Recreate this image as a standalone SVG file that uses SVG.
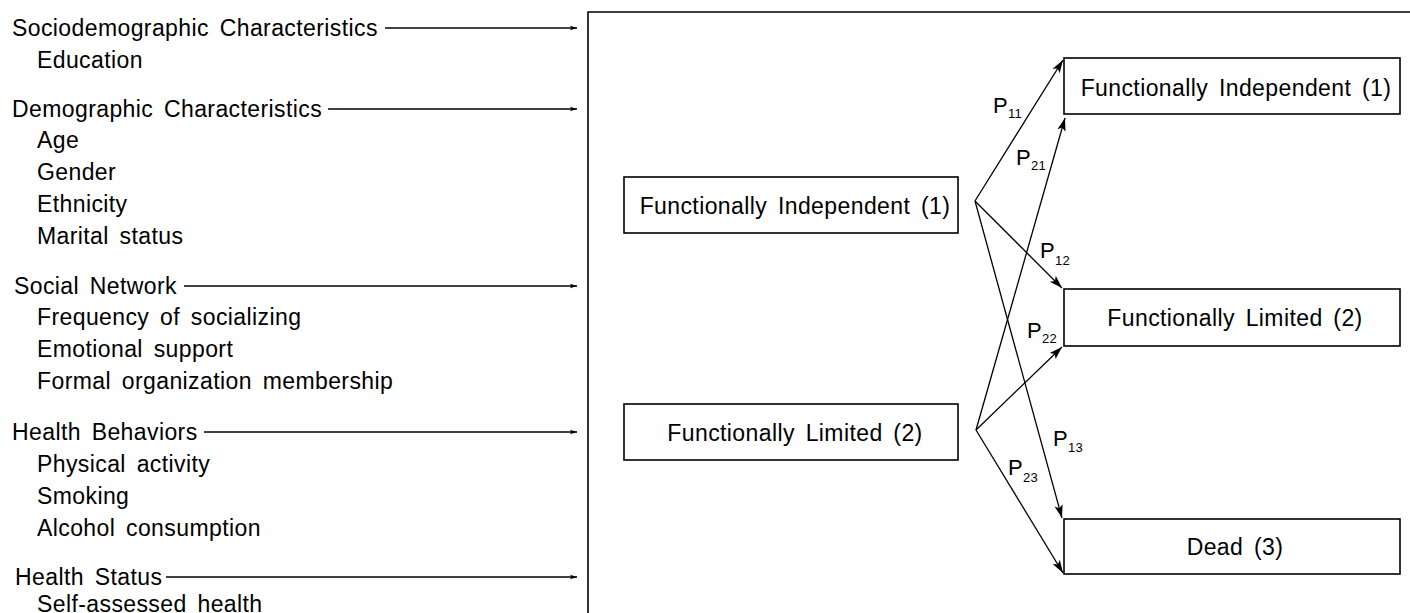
<svg xmlns="http://www.w3.org/2000/svg" width="1410" height="613" viewBox="0 0 1410 613">
<style>
text{font-family:"Liberation Sans",Arial,Helvetica,sans-serif;font-size:23px;letter-spacing:0.4px;word-spacing:4px;fill:#000}
.p{font-size:22px;letter-spacing:0}
.sub{font-size:13px;letter-spacing:0.2px}
.box{fill:#fff;stroke:#000;stroke-width:1.6}
.frame{fill:none;stroke:#000;stroke-width:1.6}
.in{stroke:#000;stroke-width:1.3;fill:none;marker-end:url(#sm)}
.tr{stroke:#000;stroke-width:1.3;fill:none;marker-end:url(#big)}
</style>
<defs>
<marker id="sm" markerUnits="userSpaceOnUse" markerWidth="8" markerHeight="6" refX="7" refY="3" orient="auto"><path d="M0,0.8 L7,3 L0,5.2 L1.5,3 z" fill="#000"/></marker>
<marker id="big" markerUnits="userSpaceOnUse" markerWidth="14" markerHeight="10" refX="13" refY="5" orient="auto"><path d="M0,0.8 L13,5 L0,9.2 L3,5 z" fill="#000"/></marker>
</defs>
<rect width="1410" height="613" fill="#fff"/>
<g id="frame"><path class="frame" d="M588,613 V12 H1410"/></g>
<g id="covariates">
<text x="12" y="36">Sociodemographic Characteristics</text>
<text x="37" y="68">Education</text>
<text x="12" y="117">Demographic Characteristics</text>
<text x="37" y="148">Age</text>
<text x="37" y="180">Gender</text>
<text x="37" y="212">Ethnicity</text>
<text x="37" y="244">Marital status</text>
<text x="14" y="294">Social Network</text>
<text x="37" y="325">Frequency of socializing</text>
<text x="37" y="357">Emotional support</text>
<text x="37" y="389">Formal organization membership</text>
<text x="12" y="440">Health Behaviors</text>
<text x="37" y="472">Physical activity</text>
<text x="37" y="504">Smoking</text>
<text x="37" y="536">Alcohol consumption</text>
<text x="15" y="585">Health Status</text>
<text x="37" y="612">Self-assessed health</text>
</g>
<g id="box-fi-t0"><rect class="box" x="624" y="177" width="334" height="56"/><text x="795" y="214" text-anchor="middle">Functionally Independent (1)</text></g>
<g id="box-fl-t0"><rect class="box" x="624" y="404" width="334" height="56"/><text x="795" y="441" text-anchor="middle">Functionally Limited (2)</text></g>
<g id="box-fi-t1"><rect class="box" x="1064" y="58" width="336" height="56"/><text x="1236" y="96" text-anchor="middle">Functionally Independent (1)</text></g>
<g id="box-fl-t1"><rect class="box" x="1064" y="289" width="336" height="57"/><text x="1235" y="326" text-anchor="middle">Functionally Limited (2)</text></g>
<g id="box-dead"><rect class="box" x="1064" y="519" width="336" height="55"/><text x="1235" y="555" text-anchor="middle">Dead (3)</text></g>
<g id="connectors">
<line class="in" x1="385" y1="28" x2="577" y2="28"/>
<line class="in" x1="328" y1="109" x2="577" y2="109"/>
<line class="in" x1="184" y1="286" x2="577" y2="286"/>
<line class="in" x1="204" y1="432" x2="577" y2="432"/>
<line class="in" x1="166" y1="577" x2="577" y2="577"/>
<line class="tr" x1="975" y1="201" x2="1063" y2="60"/>
<line class="tr" x1="975" y1="201" x2="1062" y2="288"/>
<line class="tr" x1="975" y1="201" x2="1062" y2="518"/>
<line class="tr" x1="976" y1="430" x2="1065" y2="118"/>
<line class="tr" x1="976" y1="430" x2="1062" y2="347"/>
<line class="tr" x1="976" y1="430" x2="1063" y2="573"/>
</g>
<g id="labels">
<text class="p" x="993" y="113">P<tspan class="sub" x="1008" y="118">11</tspan></text>
<text class="p" x="1016" y="165">P<tspan class="sub" x="1031" y="170">21</tspan></text>
<text class="p" x="1040" y="258">P<tspan class="sub" x="1055" y="265">12</tspan></text>
<text class="p" x="1027" y="338">P<tspan class="sub" x="1042" y="343">22</tspan></text>
<text class="p" x="1053" y="446">P<tspan class="sub" x="1068" y="452">13</tspan></text>
<text class="p" x="1008" y="475">P<tspan class="sub" x="1023" y="482">23</tspan></text>
</g>
</svg>
